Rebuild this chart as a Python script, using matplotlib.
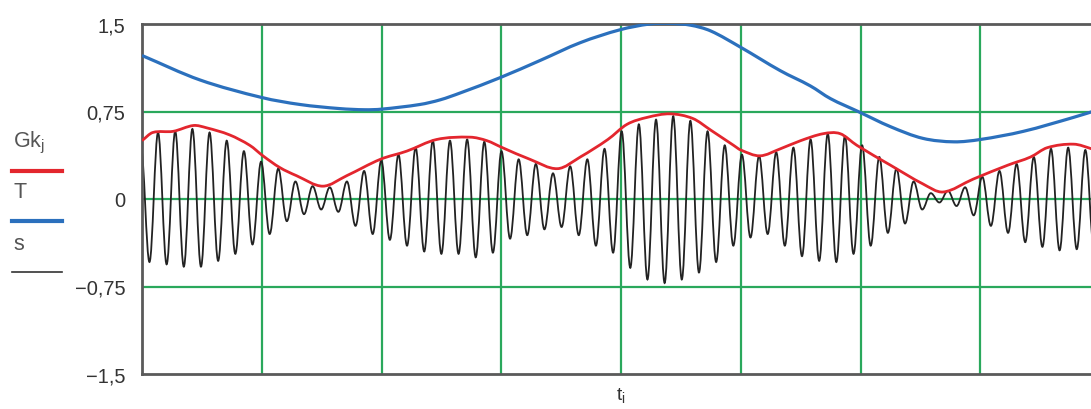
import numpy as np
import matplotlib.pyplot as plt
from matplotlib.lines import Line2D
from matplotlib.path import Path
from matplotlib.patches import PathPatch

plt.rcParams['font.family'] = ['Liberation Sans', 'DejaVu Sans']

# s: carrier peaks and troughs, one value per half-cycle (k = -1 .. 54)
s_peaks = [0.45, 0.57, 0.58, 0.60, 0.57, 0.50, 0.41, 0.32, 0.26, 0.15,
           0.11, 0.10, 0.15, 0.24, 0.33, 0.38, 0.44, 0.50, 0.50, 0.51,
           0.49, 0.41, 0.34, 0.30, 0.22, 0.28, 0.34, 0.43, 0.58, 0.64,
           0.68, 0.71, 0.67, 0.58, 0.46, 0.38, 0.37, 0.40, 0.44, 0.51,
           0.56, 0.54, 0.46, 0.36, 0.26, 0.15, 0.05, 0.07, 0.10, 0.19,
           0.24, 0.30, 0.36, 0.43, 0.44, 0.42]
s_troughs = [-0.54, -0.56, -0.58, -0.58, -0.53, -0.47, -0.39, -0.30, -0.19, -0.13,
             -0.09, -0.11, -0.23, -0.30, -0.35, -0.40, -0.45, -0.47, -0.47, -0.50,
             -0.46, -0.34, -0.31, -0.26, -0.24, -0.31, -0.40, -0.46, -0.59, -0.69,
             -0.72, -0.69, -0.63, -0.54, -0.40, -0.33, -0.30, -0.40, -0.49, -0.53,
             -0.54, -0.47, -0.40, -0.29, -0.21, -0.09, -0.03, -0.06, -0.14, -0.23,
             -0.29, -0.37, -0.41, -0.44, -0.43, -0.42]
t_first_peak = 0.134   # time of peak k=0 (grid units)
period = 0.1434        # carrier period (grid units)

# T: slow curve (blue)
T_t = [0.00, 0.485, 1.00, 1.32, 1.65, 1.86, 2.00, 2.32, 2.49, 2.66, 2.99, 3.33,
       3.66, 3.99, 4.24, 4.41, 4.58, 4.75, 5.00, 5.33, 5.58, 5.75, 5.98, 6.25,
       6.52, 6.78, 7.00, 7.36, 7.78, 8.00]
T_val = [1.23, 1.02, 0.87, 0.81, 0.775, 0.765, 0.77, 0.81, 0.85, 0.91, 1.04, 1.19,
         1.34, 1.45, 1.50, 1.505, 1.49, 1.44, 1.30, 1.10, 0.97, 0.86, 0.75, 0.62,
         0.52, 0.49, 0.51, 0.58, 0.70, 0.77]

# Gk_j: envelope (red)
G_t = [0.00, 0.09, 0.26, 0.43, 0.54, 0.73, 0.90, 1.01, 1.15, 1.29, 1.51, 1.71,
       1.99, 2.21, 2.46, 2.74, 2.88, 3.01, 3.24, 3.47, 3.66, 3.89, 4.05, 4.22,
       4.41, 4.60, 4.75, 4.94, 5.00, 5.16, 5.33, 5.50, 5.69, 5.83, 5.97, 6.25,
       6.52, 6.69, 6.94, 7.23, 7.42, 7.56, 7.78, 7.93, 8.00]
G_val = [0.50, 0.57, 0.58, 0.63, 0.61, 0.55, 0.46, 0.37, 0.27, 0.20, 0.11, 0.20,
         0.34, 0.41, 0.51, 0.53, 0.50, 0.44, 0.34, 0.26, 0.36, 0.51, 0.64, 0.70,
         0.73, 0.69, 0.59, 0.46, 0.42, 0.37, 0.43, 0.50, 0.56, 0.56, 0.46, 0.29,
         0.13, 0.06, 0.17, 0.29, 0.36, 0.44, 0.47, 0.43, 0.40]

y_ticks = [-1.5, -0.75, 0, 0.75, 1.5]
y_labels = ['\u22121,5', '\u22120,75', '0', '0,75', '1,5']


def flat_bezier(t, v):
    # cubic bezier between extremes, flat tangents at each extreme
    verts = [(t[0], v[0])]
    codes = [Path.MOVETO]
    for i in range(len(t) - 1):
        d = 0.364 * (t[i + 1] - t[i])
        verts += [(t[i] + d, v[i]), (t[i + 1] - d, v[i + 1]), (t[i + 1], v[i + 1])]
        codes += [Path.CURVE4] * 3
    return Path(verts, codes)


def smooth_path(t, v):
    # catmull-rom style bezier through the read points
    t = np.asarray(t, float)
    v = np.asarray(v, float)
    verts = [(t[0], v[0])]
    codes = [Path.MOVETO]
    n = len(t)
    for i in range(n - 1):
        i0, i3 = max(i - 1, 0), min(i + 2, n - 1)
        m1 = (v[i + 1] - v[i0]) / (t[i + 1] - t[i0])
        m2 = (v[i3] - v[i]) / (t[i3] - t[i])
        h = (t[i + 1] - t[i]) / 3
        verts += [(t[i] + h, v[i] + m1 * h), (t[i + 1] - h, v[i + 1] - m2 * h),
                  (t[i + 1], v[i + 1])]
        codes += [Path.CURVE4] * 3
    return Path(verts, codes)


# interleave peaks and troughs of s
k = np.arange(-1, len(s_peaks) - 1)
s_t = np.empty(2 * len(k))
s_v = np.empty(2 * len(k))
s_t[0::2] = t_first_peak + period * k
s_t[1::2] = t_first_peak + period * (k + 0.5)
s_v[0::2] = s_peaks
s_v[1::2] = s_troughs

W, H = 1091, 410
fig = plt.figure(figsize=(W / 100, H / 100), dpi=100)
ax = fig.add_axes([142 / W, 35 / H, 958 / W, 350 / H])

green = '#2aa85c'
red = '#e3262e'
blue = '#2b70bd'

for g in range(1, 8):
    ax.axvline(g, color=green, lw=1.6, zorder=1)
for g in [-0.75, 0, 0.75]:
    ax.axhline(g, color=green, lw=1.6, zorder=1)

ax.add_patch(PathPatch(flat_bezier(s_t, s_v), facecolor='none', edgecolor='#222222',
                       lw=1.3, zorder=2))
ax.add_patch(PathPatch(smooth_path(G_t, G_val), facecolor='none', edgecolor=red,
                       lw=2.0, zorder=3))
ax.add_patch(PathPatch(smooth_path(T_t, T_val), facecolor='none', edgecolor=blue,
                       lw=2.3, zorder=3))

ax.set_xlim(0, 8)
ax.set_ylim(-1.5, 1.5)
ax.set_xticks([])
ax.set_yticks(y_ticks)
ax.set_yticklabels(y_labels)
ax.tick_params(length=0, pad=12, labelsize=14.5, labelcolor='#333333')
for sp in ax.spines.values():
    sp.set_color('#5a5a5a')
    sp.set_linewidth(2.0)

fig.text(621 / W, 1 - 396 / H, '$\\mathregular{t_i}$', ha='center', va='center',
         fontsize=14, color='#333333')

# Mathcad-style trace list at left
names = ['$\\mathregular{Gk_j}$', 'T', 's']
colors = [red, blue, '#333333']
widths = [3.0, 3.0, 1.2]
text_y = [143, 193, 245]
line_y = [172, 222, 273]
for nm, c, w, ty, ly in zip(names, colors, widths, text_y, line_y):
    fig.text(13 / W, 1 - ty / H, nm, ha='left', va='center', fontsize=15.5, color='#555555')
    fig.add_artist(Line2D([12 / W, 62 / W], [1 - ly / H, 1 - ly / H], color=c, lw=w))

fig.savefig('out.png', dpi=100)
